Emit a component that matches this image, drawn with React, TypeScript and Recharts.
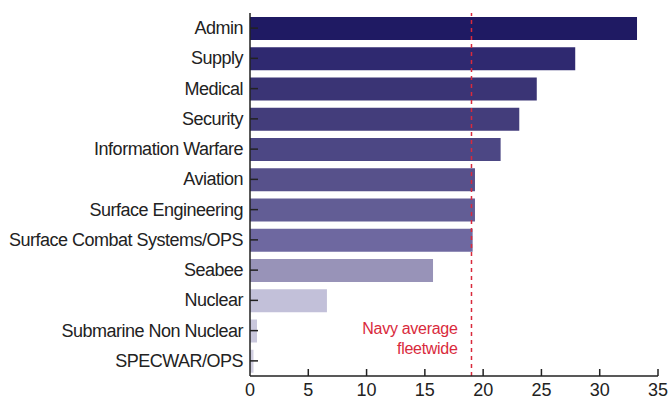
import React from "react";
import {
  BarChart,
  Bar,
  XAxis,
  YAxis,
  Cell,
  ReferenceLine,
} from "recharts";

// Categories, top to bottom
const categories = [
  "Admin",
  "Supply",
  "Medical",
  "Security",
  "Information Warfare",
  "Aviation",
  "Surface Engineering",
  "Surface Combat Systems/OPS",
  "Seabee",
  "Nuclear",
  "Submarine Non Nuclear",
  "SPECWAR/OPS",
];

// Values
const values = [33.2, 27.9, 24.6, 23.1, 21.5, 19.3, 19.3, 19.1, 15.7, 6.6, 0.6, 0.3];

const barColors = [
  "#1f1a63",
  "#2f2970",
  "#3a3475",
  "#433d7b",
  "#4c4784",
  "#57518b",
  "#625d95",
  "#6e68a0",
  "#9893b8",
  "#c2c0d9",
  "#c9c7dc",
  "#d0cee0",
];

const xTicks = [0, 5, 10, 15, 20, 25, 30, 35];
const navyAverage = 19;
const avgLabel = ["Navy average", "fleetwide"];

const FONT = '"Liberation Sans", Arial, Helvetica, sans-serif';
const TEXT = "#222";
const AXIS = "#222";
const RED = "#d92a3c";

const data = categories.map((name, i) => ({ name, value: values[i] }));

const YTick = (props: any) => {
  const { x, y, payload } = props;
  return (
    <g>
      <line x1={x} x2={x + 8} y1={y} y2={y} stroke={AXIS} strokeWidth={1.5} />
      <text
        x={x - 7}
        y={y}
        dy={6}
        textAnchor="end"
        fontSize={18}
        fontFamily={FONT}
        fill={TEXT}
        letterSpacing={-0.5}
      >
        {payload.value}
      </text>
    </g>
  );
};

const XTick = (props: any) => {
  const { x, y, payload } = props;
  return (
    <g>
      {payload.value !== 0 && (
        <line x1={x} x2={x} y1={y} y2={y - 7} stroke={AXIS} strokeWidth={1.5} />
      )}
      <text
        x={x}
        y={y}
        dy={20}
        textAnchor="middle"
        fontSize={18}
        fontFamily={FONT}
        fill={TEXT}
      >
        {payload.value}
      </text>
    </g>
  );
};

const AvgLabel = (props: any) => {
  const { viewBox } = props;
  const x = viewBox.x - 14;
  const bottom = viewBox.y + viewBox.height;
  return (
    <g>
      <text x={x} y={bottom - 42} textAnchor="end" fontSize={16} fontFamily={FONT} fill={RED} letterSpacing={-0.3}>
        {avgLabel[0]}
      </text>
      <text x={x} y={bottom - 22} textAnchor="end" fontSize={16} fontFamily={FONT} fill={RED} letterSpacing={-0.3}>
        {avgLabel[1]}
      </text>
    </g>
  );
};

const App = () => {
  return (
    <div style={{ position: "absolute", left: 0, top: 0, width: 670, height: 400, background: "#fff" }}>
      <BarChart
        width={670}
        height={400}
        data={data}
        layout="vertical"
        margin={{ top: 13, right: 12, bottom: 0, left: 0 }}
      >
        <XAxis
          type="number"
          domain={[0, 35]}
          ticks={xTicks}
          height={24}
          axisLine={{ stroke: AXIS, strokeWidth: 1.5 }}
          tickLine={false}
          tickSize={0}
          tickMargin={0}
          tick={<XTick />}
          interval={0}
        />
        <YAxis
          type="category"
          dataKey="name"
          width={250}
          axisLine={{ stroke: AXIS, strokeWidth: 1.5 }}
          tickLine={false}
          tickSize={0}
          tickMargin={0}
          tick={<YTick />}
          interval={0}
        />
        <Bar dataKey="value" barSize={23} isAnimationActive={false}>
          {data.map((d, i) => (
            <Cell key={d.name} fill={barColors[i]} />
          ))}
        </Bar>
        <ReferenceLine
          x={navyAverage}
          stroke={RED}
          strokeWidth={1.5}
          strokeDasharray="4 4"
          label={<AvgLabel />}
        />
      </BarChart>
    </div>
  );
};

export default App;
